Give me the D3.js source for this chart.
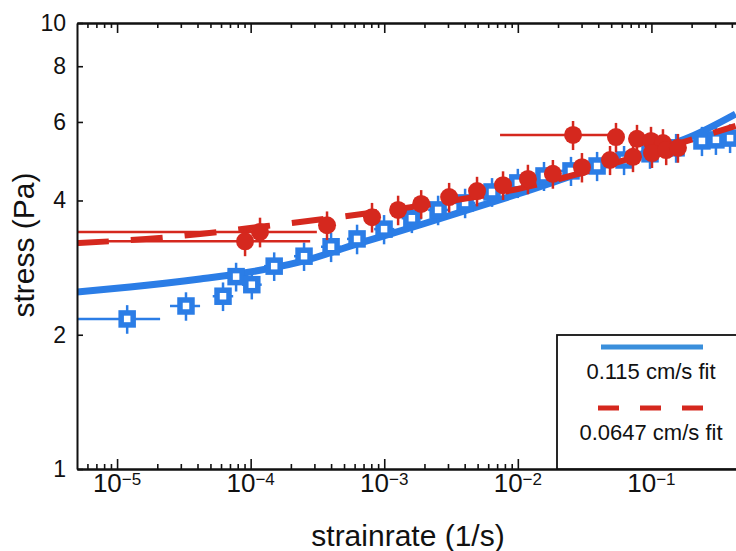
<!DOCTYPE html>
<html><head><meta charset="utf-8">
<script src="https://cdn.jsdelivr.net/npm/d3@7"></script>
<style>
body{margin:0;background:#fff}
svg{display:block}
text{font-family:"Liberation Sans",Arial,Helvetica,sans-serif;fill:#111}
</style>
</head><body>
<svg id="c" width="736" height="551"></svg>
<script>
// ---- data ----
const xMajorTicks = [1e-5, 1e-4, 1e-3, 1e-2, 1e-1];
const xTickExps = ["\u22125", "\u22124", "\u22123", "\u22122", "\u22121"];
const yTicks = [1, 2, 4, 6, 8, 10];

// 0.115 cm/s data (open squares)
const blueX   = [1.19e-5, 3.28e-5, 6.21e-5, 7.78e-5, 1.02e-4, 1.50e-4, 2.51e-4, 4.0e-4, 6.26e-4, 9.97e-4, 1.61e-3, 2.53e-3, 4.03e-3, 6.41e-3, 1.0e-2, 1.57e-2, 2.50e-2, 3.92e-2, 6.24e-2, 9.76e-2, 0.153, 0.239, 0.304, 0.388];
const blueY   = [2.17, 2.32, 2.44, 2.70, 2.59, 2.85, 3.00, 3.15, 3.28, 3.45, 3.65, 3.81, 3.95, 4.18, 4.38, 4.54, 4.66, 4.78, 4.93, 5.09, 5.25, 5.44, 5.47, 5.52];
const blueYErr= [0.16, 0.17, 0.18, 0.20, 0.19, 0.21, 0.22, 0.24, 0.25, 0.26, 0.27, 0.29, 0.30, 0.31, 0.33, 0.34, 0.35, 0.36, 0.37, 0.38, 0.39, 0.41, 0.41, 0.41];
const blueXLo = [4e-6, 2.49e-5, 5.2e-5, 6.5e-5, 8.6e-5, 1.26e-4, 2.11e-4, 3.36e-4, 5.26e-4, 8.4e-4, 1.35e-3, 2.13e-3, 3.39e-3, 5.39e-3, 8.4e-3, 1.32e-2, 2.10e-2, 3.29e-2, 5.24e-2, 8.2e-2, 0.129, 0.201, 0.255, 0.326];
const blueXHi = [2.1e-5, 4.18e-5, 7.4e-5, 9.3e-5, 1.21e-4, 1.79e-4, 2.99e-4, 4.76e-4, 7.45e-4, 1.19e-3, 1.92e-3, 3.01e-3, 4.80e-3, 7.63e-3, 1.19e-2, 1.87e-2, 2.98e-2, 4.66e-2, 7.43e-2, 0.116, 0.182, 0.284, 0.362, 0.462];

// 0.0647 cm/s data (filled circles)
const redX   = [9.08e-5, 1.175e-4, 3.73e-4, 8.1e-4, 1.27e-3, 1.89e-3, 3.06e-3, 4.95e-3, 7.75e-3, 1.19e-2, 1.83e-2, 3.02e-2, 2.59e-2, 5.43e-2, 7.8e-2, 9.93e-2, 0.122, 4.9e-2, 7.28e-2, 0.101, 0.129, 0.158];
const redY   = [3.24, 3.40, 3.52, 3.67, 3.81, 3.93, 4.07, 4.20, 4.33, 4.47, 4.59, 4.75, 5.61, 5.55, 5.50, 5.44, 5.38, 4.93, 5.01, 5.11, 5.19, 5.25];
const redYErr= [0.24, 0.26, 0.26, 0.28, 0.29, 0.29, 0.31, 0.32, 0.32, 0.34, 0.34, 0.36, 0.42, 0.42, 0.41, 0.41, 0.40, 0.37, 0.38, 0.38, 0.39, 0.39];
const redXLo = [1e-6, 1e-6, null, null, null, null, null, null, null, null, null, null, 7.36e-3, null, null, null, null, null, null, null, null, null];
const redXHi = [2.79e-4, 3.13e-4, null, null, null, null, null, null, null, null, null, null, 4.73e-2, null, null, null, null, null, null, null, null, null];

// fit curves
const blueFitX = [5e-6, 1.25e-5, 4.18e-5, 9.9e-5, 2.34e-4, 6.26e-4, 1.95e-3, 1.0e-2, 4.07e-2, 9.93e-2, 0.195, 0.427];
const blueFitY = [2.494, 2.559, 2.667, 2.765, 2.912, 3.196, 3.543, 4.136, 4.755, 5.164, 5.553, 6.252];
const redFitX  = [5e-6, 1.65e-5, 4.18e-5, 9.9e-5, 2.34e-4, 9.97e-4, 3.16e-3, 1.0e-2, 3.18e-2, 9.93e-2, 0.231, 0.427];
const redFitY  = [3.212, 3.279, 3.364, 3.470, 3.579, 3.789, 3.990, 4.245, 4.634, 5.137, 5.553, 5.876];

const legendLabels = ["0.115 cm/s fit", "0.0647 cm/s fit"];

// ---- drawing ----
const BLUE = "#2b7de6", RED = "#d5281e";
const svg = d3.select("#c");
const L = 77, T = 23, R = 785, B = 469;
const x = d3.scaleLog().domain([Math.pow(10, -5.3), 1]).range([L, R]);
const y = d3.scaleLog().domain([1, 10]).range([B, T]);

svg.append("rect").attr("width", 736).attr("height", 551).attr("fill", "#fff");
svg.append("defs").append("clipPath").attr("id", "clip")
  .append("rect").attr("x", L).attr("y", T).attr("width", R - L).attr("height", B - T);

const plot = svg.append("g").attr("clip-path", "url(#clip)");

const line = d3.line().x(d => x(d[0])).y(d => y(d[1])).curve(d3.curveMonotoneX);

// blue fit
plot.append("path").datum(blueFitX.map((v, i) => [v, blueFitY[i]]))
  .attr("d", line).attr("fill", "none").attr("stroke", BLUE).attr("stroke-width", 7);

// blue points
const bp = blueX.map((v, i) => ({x: v, y: blueY[i], e: blueYErr[i], lo: blueXLo[i], hi: blueXHi[i]}));
const bg = plot.append("g");
bg.selectAll("line.v").data(bp).join("line")
  .attr("x1", d => x(d.x)).attr("x2", d => x(d.x))
  .attr("y1", d => y(d.y - d.e)).attr("y2", d => y(d.y + d.e))
  .attr("stroke", BLUE).attr("stroke-width", 2.5);
bg.selectAll("line.h").data(bp).join("line")
  .attr("x1", d => x(d.lo)).attr("x2", d => x(d.hi))
  .attr("y1", d => y(d.y)).attr("y2", d => y(d.y))
  .attr("stroke", BLUE).attr("stroke-width", 2.5);
bg.selectAll("rect").data(bp).join("rect")
  .attr("x", d => x(d.x) - 6).attr("y", d => y(d.y) - 6)
  .attr("width", 12).attr("height", 12)
  .attr("fill", "#fff").attr("stroke", BLUE).attr("stroke-width", 5.5);

// red fit
plot.append("path").datum(redFitX.map((v, i) => [v, redFitY[i]]))
  .attr("d", line).attr("fill", "none").attr("stroke", RED).attr("stroke-width", 6)
  .attr("stroke-dasharray", "32,22");

// red points
const rp = redX.map((v, i) => ({x: v, y: redY[i], e: redYErr[i], lo: redXLo[i], hi: redXHi[i]}));
const rg = plot.append("g");
rg.selectAll("line.h").data(rp.filter(d => d.lo !== null)).join("line")
  .attr("x1", d => x(d.lo)).attr("x2", d => x(d.hi))
  .attr("y1", d => y(d.y)).attr("y2", d => y(d.y))
  .attr("stroke", RED).attr("stroke-width", 2.5);
rg.selectAll("line.v").data(rp).join("line")
  .attr("x1", d => x(d.x)).attr("x2", d => x(d.x))
  .attr("y1", d => y(d.y - d.e)).attr("y2", d => y(d.y + d.e))
  .attr("stroke", RED).attr("stroke-width", 2.5);
rg.selectAll("circle").data(rp).join("circle")
  .attr("cx", d => x(d.x)).attr("cy", d => y(d.y)).attr("r", 9)
  .attr("fill", RED);

// ---- axes ----
const minorTicks = [];
for (let e = -6; e <= -1; e++) for (let m = 2; m <= 9; m++) {
  const v = m * Math.pow(10, e);
  if (v >= x.domain()[0] && v <= 1) minorTicks.push(v);
}
function styleAxis(g) {
  g.selectAll("path.domain").attr("stroke", "#111").attr("stroke-width", 2);
  g.selectAll(".tick line").attr("stroke", "#111").attr("stroke-width", 1.6);
}
// bottom
svg.append("g").attr("transform", `translate(0,${B})`)
  .call(d3.axisBottom(x).tickValues(minorTicks).tickSize(-5).tickSizeOuter(0).tickFormat(""))
  .call(styleAxis);
svg.append("g").attr("transform", `translate(0,${B})`)
  .call(d3.axisBottom(x).tickValues(xMajorTicks).tickSize(-10).tickSizeOuter(0).tickFormat(""))
  .call(styleAxis);
// top
svg.append("g").attr("transform", `translate(0,${T})`)
  .call(d3.axisTop(x).tickValues(minorTicks).tickSize(-5).tickSizeOuter(0).tickFormat(""))
  .call(styleAxis);
svg.append("g").attr("transform", `translate(0,${T})`)
  .call(d3.axisTop(x).tickValues(xMajorTicks).tickSize(-10).tickSizeOuter(0).tickFormat(""))
  .call(styleAxis);
// left
const ya = svg.append("g").attr("transform", `translate(${L},0)`)
  .call(d3.axisLeft(y).tickValues(yTicks).tickSize(-6).tickSizeOuter(0).tickPadding(11).tickFormat(d3.format("d")))
  .call(styleAxis);
ya.selectAll("text").attr("font-size", 23).attr("fill", "#111")
  .attr("font-family", '"Liberation Sans",Arial,Helvetica,sans-serif');

// x tick labels with superscripts
const xl = svg.append("g");
xMajorTicks.forEach((v, i) => {
  const t = xl.append("text").attr("x", x(v)).attr("y", 492)
    .attr("text-anchor", "middle").attr("font-size", 26);
  t.append("tspan").text("10");
  t.append("tspan").attr("font-size", 17).attr("dy", -7).text(xTickExps[i]);
});

// axis titles
svg.append("text").attr("x", 408).attr("y", 546).attr("text-anchor", "middle")
  .attr("font-size", 30).text("strainrate (1/s)");
svg.append("text").attr("transform", "translate(34,245) rotate(-90)")
  .attr("text-anchor", "middle").attr("font-size", 30).text("stress (Pa)");

// ---- legend ----
const lg = svg.append("g");
lg.append("rect").attr("x", 557).attr("y", 335).attr("width", 200).attr("height", B - 335)
  .attr("fill", "#fff").attr("stroke", "#111").attr("stroke-width", 1.8);
lg.append("line").attr("x1", 601).attr("x2", 703).attr("y1", 347).attr("y2", 347)
  .attr("stroke", "#3a8fdc").attr("stroke-width", 5);
lg.append("text").attr("x", 651).attr("y", 379).attr("text-anchor", "middle")
  .attr("font-size", 22).text(legendLabels[0]);
lg.append("line").attr("x1", 598).attr("x2", 703).attr("y1", 408).attr("y2", 408)
  .attr("stroke", RED).attr("stroke-width", 5).attr("stroke-dasharray", "21,21");
lg.append("text").attr("x", 651).attr("y", 440).attr("text-anchor", "middle")
  .attr("font-size", 22).text(legendLabels[1]);
</script>
</body></html>
